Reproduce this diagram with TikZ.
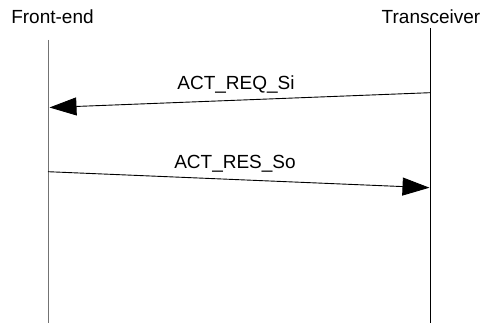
\documentclass[tikz,border=0pt]{standalone}
\usepackage{fontspec}
\setmainfont{Liberation Sans}
\usetikzlibrary{arrows.meta}

\begin{document}
\begin{tikzpicture}[x=1pt, y=-1pt, line width=0.9pt,
  >={Triangle[length=27pt, width=18pt]},
  every node/.style={inner sep=0pt, font=\fontsize{19}{23}\selectfont}]
\useasboundingbox (0, 0) rectangle (482, 323);
\node[anchor=base] (fe) at (52.5, 24) {Front-end};
\node[anchor=base] (tr) at (431, 24) {Transceiver};
\coordinate (fetop) at (48, 40);
\coordinate (febot) at (48, 323);
\coordinate (trtop) at (430, 28);
\coordinate (trbot) at (430, 323);
\draw[black!55] (fetop) -- (febot);
\draw (trtop) -- (trbot);
\coordinate (reqa) at (430, 92.7);
\coordinate (reqb) at (49.5, 107.5);
\coordinate (resa) at (48, 171.7);
\coordinate (resb) at (429.5, 187.7);
\draw[->] (reqa) -- (reqb);
\draw[->] (resa) -- (resb);
\node[anchor=base] (req) at (236, 90) {ACT\_REQ\_Si};
\node[anchor=base] (res) at (235, 168.3) {ACT\_RES\_So};
\end{tikzpicture}
\end{document}
